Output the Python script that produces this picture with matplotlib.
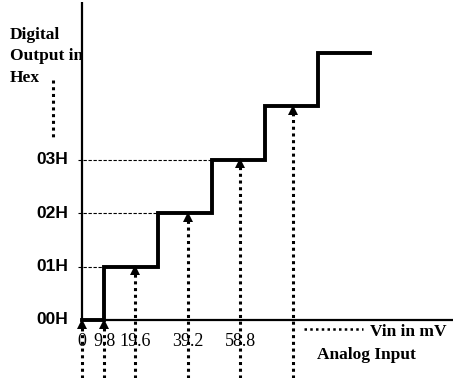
import numpy as np
import matplotlib.pyplot as plt

# output codes on the y axis and the staircase they belong to
level_labels = ['00H', '01H', '02H', '03H']
level_values = [0, 1, 2, 3]

# staircase: x where each step begins (diagram units) and its code
stair_x = [0, 22, 76, 130, 183, 236, 288]
stair_y = [0, 1, 2, 3, 4, 5, 5]

# dotted input arrows: x position and the code they reach
arrow_x = [0, 22, 53, 106, 158, 211]
arrow_top = [0, 0, 1, 2, 3, 4]

# analog input tick labels (sit under the first five arrows)
tick_labels = ['0', '9.8', '19.6', '39.2', '58.8']

# where the dashed guide from each code meets the staircase
guide_end = [22, 76, 130]

PX = 53.5  # pixels per code step in the original picture

serif = 'Liberation Serif'
sans = 'Liberation Sans'


def main():
    fig = plt.figure(figsize=(4.71, 3.78), dpi=100)
    ax = fig.add_axes([0, 0, 1, 1])
    ax.set_xlim(-82, 389)
    ax.set_ylim(-58 / PX, 320 / PX)
    ax.axis('off')

    # axes of the diagram
    ax.plot([0, 0], [0, 318 / PX], color='black', lw=1.6, solid_capstyle='butt')
    ax.plot([0, 371], [0, 0], color='black', lw=1.6, solid_capstyle='butt')

    # staircase transfer curve
    ax.step(stair_x, stair_y, where='post', color='black', lw=2.8,
            solid_joinstyle='miter')

    # dashed guides from the y labels to the steps
    for lvl, xe in zip(level_values[1:], guide_end):
        ax.plot([-4, xe], [lvl, lvl], color='black', lw=0.8,
                ls=(0, (3, 1.5)))

    # dotted arrows coming up from the analog input
    bottom = -58 / PX
    for x, top in zip(arrow_x, arrow_top):
        ax.plot([x, x], [bottom, top - 0.1], color='black', lw=2.2,
                ls=(0, (1, 1.2)), dash_capstyle='butt')
        ax.plot([x], [top - 0.07], marker='^', ms=7.5, color='black', mew=0)

    # y labels
    for lbl, lvl in zip(level_labels, level_values):
        ax.text(-14, lvl, lbl, ha='right', va='center', family=sans,
                fontsize=12.5, fontweight='bold')

    # x tick labels
    for lbl, x in zip(tick_labels, arrow_x):
        ax.text(x, -22 / PX, lbl, ha='center', va='center', family=serif,
                fontsize=13)

    # axis titles
    ax.text(-72, 293 / PX, 'Digital\nOutput in\nHex', ha='left', va='top',
            family=serif, fontweight='bold', fontsize=12.5, linespacing=1.45)
    ax.plot([-29, -29], [240 / PX, 182 / PX], color='black', lw=2.2,
            ls=(0, (1, 1.2)))

    ax.plot([222, 281], [-9 / PX, -9 / PX], color='black', lw=1.8,
            ls=(0, (1, 1.3)))
    ax.text(288, -12 / PX, 'Vin in mV', ha='left', va='center', family=serif,
            fontweight='bold', fontsize=12.5)
    ax.text(235, -35 / PX, 'Analog Input', ha='left', va='center',
            family=serif, fontweight='bold', fontsize=12.5)

    fig.savefig('out.png', dpi=100)


if __name__ == '__main__':
    main()
